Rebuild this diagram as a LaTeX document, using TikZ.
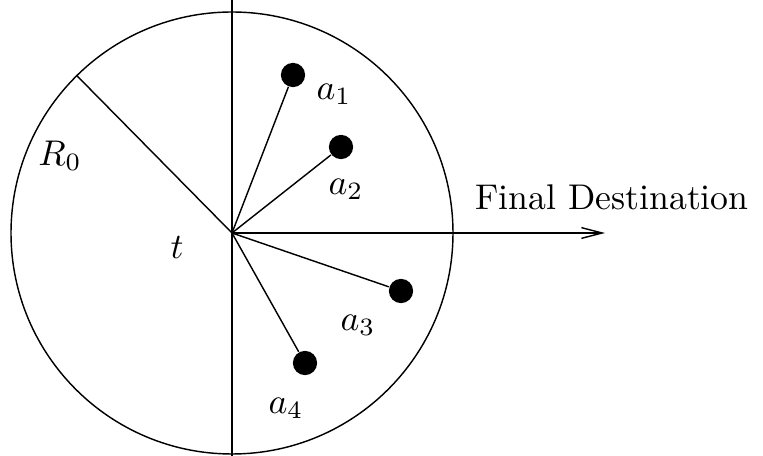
\documentclass[tikz,border=0pt]{standalone}
\usepackage{tikz}
\usetikzlibrary{arrows.meta}
\usetikzlibrary{positioning}

\begin{document}
\begin{tikzpicture}[x=0.28pt,y=0.28pt]
  \tikzset{>={Straight Barb[length=5.8pt,width=3pt]}}
  \tikzstyle{dot}=[circle,fill=black,inner sep=0pt,minimum size=6.8pt]
  \tikzstyle{ray}=[black,line width=0.4pt]

  % CONSTANTS
  \def\rad{221}

  \useasboundingbox (-232,-223) rectangle (531,233);

  % Circle and axes
  \coordinate (t0) at (0,0);
  \coordinate (top) at (0,233);
  \coordinate (bot) at (0,-223);
  \coordinate (edge) at (134.6:\rad);
  \coordinate (dest) at (373,0);
  \draw[ray] (t0) circle (\rad);
  \draw[ray] (top) -- (bot);
  \draw[ray] (t0) -- (edge);
  \draw[ray,->] (t0) -- (dest);

  % Agents
  \node[dot] (a1) at (61,158) {};
  \node[dot] (a2) at (109,86) {};
  \node[dot] (a3) at (169,-58) {};
  \node[dot] (a4) at (73,-130) {};
  \foreach \i in {1,...,4}
    \draw[ray] (t0) -- (a\i);

  % Labels
  \node (l1) at (102,139) {$a_1$};
  \node (l2) at (114,44) {$a_2$};
  \node (l3) at (126,-92) {$a_3$};
  \node (l4) at (54,-175) {$a_4$};
  \node (r0) at (-172,77) {$R_0$};
  \node (tl) at (-55,-15) {$t$};
  \node (fd) at (380,36) {Final Destination};

\end{tikzpicture}
\end{document}
